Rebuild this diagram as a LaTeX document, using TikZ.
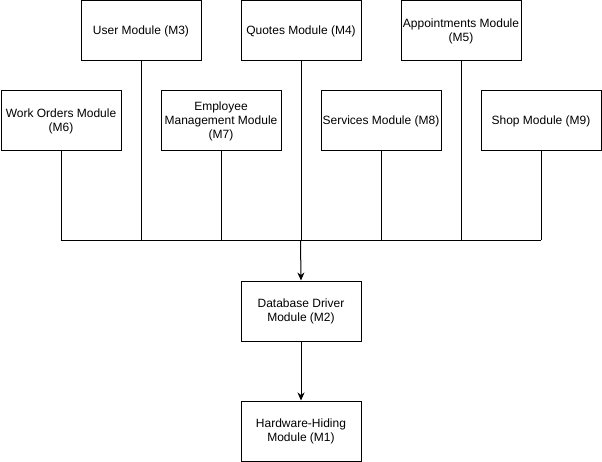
\documentclass[tikz,border=0pt]{standalone}
\usepackage{fontspec}
\setmainfont{Liberation Sans}
\usetikzlibrary{arrows.meta}
\begin{document}
\begin{tikzpicture}[x=1pt,y=-1pt,
  modbox/.style={draw=black,line width=1pt,minimum width=120pt,minimum height=60pt,inner sep=0pt,align=center,font=\fontsize{12}{14}\selectfont,anchor=north west},
  link/.style={draw=black,line width=1pt},
  arr/.style={link,-{Stealth[length=8pt,width=7pt,inset=2.5pt]}}]
\useasboundingbox (0,0) rectangle (602,462);
\node[modbox] (m3) at (80.5,0.5) {User Module (M3)};
\node[modbox] (m4) at (240.5,0.5) {Quotes Module (M4)};
\node[modbox] (m5) at (400.5,0.5) {Appointments Module\\(M5)};
\node[modbox] (m6) at (0.5,90.5) {Work Orders Module\\(M6)};
\node[modbox] (m7) at (160.5,90.5) {Employee\\Management Module\\(M7)};
\node[modbox] (m8) at (320.5,90.5) {Services Module (M8)};
\node[modbox] (m9) at (480.5,90.5) {Shop Module (M9)};
\node[modbox] (m2) at (240.5,280.5) {Database Driver\\Module (M2)};
\node[modbox] (m1) at (240.5,400.5) {Hardware-Hiding\\Module (M1)};
\coordinate (bl) at (60.5,240.5);
\coordinate (br) at (540.5,240.5);
\coordinate (bc) at (300.5,240.5);
\draw[link] (bl) -- (br);
\foreach \m in {m3,m4,m5,m6,m7,m8,m9}{
  \draw[link] (\m.south) -- (\m.south |- bc);
}
\draw[arr] (bc) -- (m2.north);
\draw[arr] (m2.south) -- (m1.north);
\end{tikzpicture}
\end{document}
